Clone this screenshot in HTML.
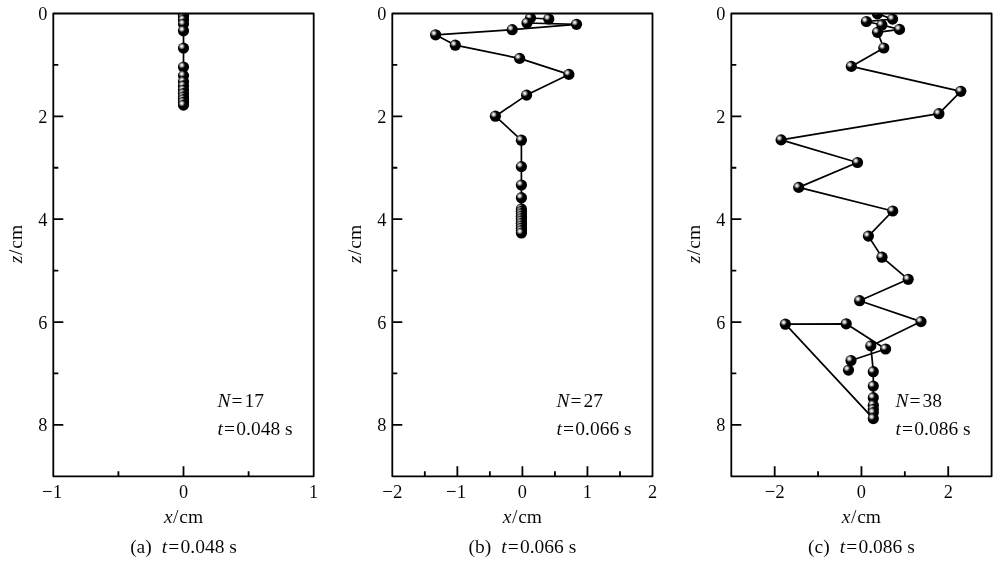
<!DOCTYPE html>
<html><head><meta charset="utf-8"><style>
html,body{margin:0;padding:0;background:#fff;width:1000px;height:562px;overflow:hidden}
svg{display:block;will-change:transform}
text{font-family:"Liberation Serif",serif;fill:#000;stroke:#fff;stroke-width:0.05px;paint-order:normal}
</style></head><body>
<svg width="1000" height="562" viewBox="0 0 1000 562">
<defs>
<radialGradient id="g" cx="0.34" cy="0.34" r="0.32" fx="0.34" fy="0.34">
<stop offset="0" stop-color="#f6f6f6"/>
<stop offset="0.25" stop-color="#e0e0e0"/>
<stop offset="0.6" stop-color="#707070"/>
<stop offset="0.9" stop-color="#080808"/>
<stop offset="1" stop-color="#000"/>
</radialGradient>

<clipPath id="c0"><rect x="53.3" y="13.5" width="260.4" height="462.8"/></clipPath>
<clipPath id="c1"><rect x="392.3" y="13.5" width="260.2" height="462.8"/></clipPath>
<clipPath id="c2"><rect x="731.3" y="13.5" width="260.3" height="462.8"/></clipPath>
</defs>
<g clip-path="url(#c0)">
<polyline points="183.5,14 183.5,15.2 183.5,16.9 183.5,19.9 183.5,24.1 183.5,30.8 183.5,48.1 183.5,67 183.5,75.6 183.5,81.6 183.5,85.9 183.5,90 183.5,93.7 183.5,96.9 183.5,99.6 183.5,102.3 183.5,105.1" fill="none" stroke="#000" stroke-width="1.7" stroke-linejoin="round"/>
<circle cx="183.5" cy="14" r="5.6" fill="url(#g)"/>
<circle cx="183.5" cy="15.2" r="5.6" fill="url(#g)"/>
<circle cx="183.5" cy="16.9" r="5.6" fill="url(#g)"/>
<circle cx="183.5" cy="19.9" r="5.6" fill="url(#g)"/>
<circle cx="183.5" cy="24.1" r="5.6" fill="url(#g)"/>
<circle cx="183.5" cy="30.8" r="5.6" fill="url(#g)"/>
<circle cx="183.5" cy="48.1" r="5.6" fill="url(#g)"/>
<circle cx="183.5" cy="67" r="5.6" fill="url(#g)"/>
<circle cx="183.5" cy="75.6" r="5.6" fill="url(#g)"/>
<circle cx="183.5" cy="81.6" r="5.6" fill="url(#g)"/>
<circle cx="183.5" cy="85.9" r="5.6" fill="url(#g)"/>
<circle cx="183.5" cy="90" r="5.6" fill="url(#g)"/>
<circle cx="183.5" cy="93.7" r="5.6" fill="url(#g)"/>
<circle cx="183.5" cy="96.9" r="5.6" fill="url(#g)"/>
<circle cx="183.5" cy="99.6" r="5.6" fill="url(#g)"/>
<circle cx="183.5" cy="102.3" r="5.6" fill="url(#g)"/>
<circle cx="183.5" cy="105.1" r="5.6" fill="url(#g)"/>
</g>
<path d="M53.3 13.5H313.7V476.3H53.3Z" fill="none" stroke="#000" stroke-width="1.8" stroke-linejoin="round"/>
<path d="M53.3 64.92h5M53.3 116.34h10M53.3 167.77h5M53.3 219.19h10M53.3 270.61h5M53.3 322.03h10M53.3 373.46h5M53.3 424.88h10M183.5 476.3v-10M118.4 476.3v-5M248.6 476.3v-5" stroke="#000" stroke-width="1.8" fill="none"/>
<text transform="translate(47.4,20) scale(0.94,1.02)" font-size="19.5" text-anchor="end">0</text>
<text transform="translate(47.4,122.84) scale(0.94,1.02)" font-size="19.5" text-anchor="end">2</text>
<text transform="translate(47.4,225.69) scale(0.94,1.02)" font-size="19.5" text-anchor="end">4</text>
<text transform="translate(47.4,328.53) scale(0.94,1.02)" font-size="19.5" text-anchor="end">6</text>
<text transform="translate(47.4,431.38) scale(0.94,1.02)" font-size="19.5" text-anchor="end">8</text>
<text transform="translate(52.1,498) scale(0.97,1.02)" font-size="19.5" text-anchor="middle">−1</text>
<text transform="translate(183.5,498) scale(0.94,1.02)" font-size="19.5" text-anchor="middle">0</text>
<text transform="translate(313.7,498) scale(0.94,1.02)" font-size="19.5" text-anchor="middle">1</text>
<text x="183.5" y="523" font-size="19.5" text-anchor="middle"><tspan font-style="italic">x</tspan><tspan dx="0.5">/</tspan><tspan dx="0.8">cm</tspan></text>
<text transform="translate(22.3,244.1) rotate(-90)" font-size="19.5" text-anchor="middle"><tspan font-style="italic">z</tspan><tspan dx="0.8">/</tspan><tspan dx="0.8">cm</tspan></text>
<text x="217.6" y="407.1" font-size="19.5"><tspan font-style="italic">N</tspan><tspan dx="1.0">=</tspan><tspan dx="2.0">17</tspan></text>
<text x="217.6" y="434.5" font-size="19.5"><tspan font-style="italic">t</tspan><tspan dx="1.0">=</tspan><tspan dx="1.3">0.048 s</tspan></text>
<text x="183.5" y="553" font-size="19.5" text-anchor="middle" xml:space="preserve">(a)<tspan dx="10" font-style="italic">t</tspan><tspan dx="1.0">=</tspan><tspan dx="1.3">0.048 s</tspan></text>
<g clip-path="url(#c1)">
<polyline points="548.8,19 530.5,18 527,23 576.5,24.3 512.2,29.7 435.6,34.8 455.3,45.2 519.6,58.4 568.9,74.4 526.6,95.1 495.4,116.2 521.4,140.2 521.4,166.6 521.4,185 521.4,197.7 521.4,208.9 521.4,211.31 521.4,213.72 521.4,216.13 521.4,218.54 521.4,220.95 521.4,223.36 521.4,225.77 521.4,228.18 521.4,230.59 521.4,233" fill="none" stroke="#000" stroke-width="1.7" stroke-linejoin="round"/>
<circle cx="530.5" cy="18" r="5.6" fill="url(#g)"/>
<circle cx="548.8" cy="19" r="5.6" fill="url(#g)"/>
<circle cx="527" cy="23" r="5.6" fill="url(#g)"/>
<circle cx="576.5" cy="24.3" r="5.6" fill="url(#g)"/>
<circle cx="512.2" cy="29.7" r="5.6" fill="url(#g)"/>
<circle cx="435.6" cy="34.8" r="5.6" fill="url(#g)"/>
<circle cx="455.3" cy="45.2" r="5.6" fill="url(#g)"/>
<circle cx="519.6" cy="58.4" r="5.6" fill="url(#g)"/>
<circle cx="568.9" cy="74.4" r="5.6" fill="url(#g)"/>
<circle cx="526.6" cy="95.1" r="5.6" fill="url(#g)"/>
<circle cx="495.4" cy="116.2" r="5.6" fill="url(#g)"/>
<circle cx="521.4" cy="140.2" r="5.6" fill="url(#g)"/>
<circle cx="521.4" cy="166.6" r="5.6" fill="url(#g)"/>
<circle cx="521.4" cy="185" r="5.6" fill="url(#g)"/>
<circle cx="521.4" cy="197.7" r="5.6" fill="url(#g)"/>
<circle cx="521.4" cy="208.9" r="5.6" fill="url(#g)"/>
<circle cx="521.4" cy="211.31" r="5.6" fill="url(#g)"/>
<circle cx="521.4" cy="213.72" r="5.6" fill="url(#g)"/>
<circle cx="521.4" cy="216.13" r="5.6" fill="url(#g)"/>
<circle cx="521.4" cy="218.54" r="5.6" fill="url(#g)"/>
<circle cx="521.4" cy="220.95" r="5.6" fill="url(#g)"/>
<circle cx="521.4" cy="223.36" r="5.6" fill="url(#g)"/>
<circle cx="521.4" cy="225.77" r="5.6" fill="url(#g)"/>
<circle cx="521.4" cy="228.18" r="5.6" fill="url(#g)"/>
<circle cx="521.4" cy="230.59" r="5.6" fill="url(#g)"/>
<circle cx="521.4" cy="233" r="5.6" fill="url(#g)"/>
</g>
<path d="M392.3 13.5H652.5V476.3H392.3Z" fill="none" stroke="#000" stroke-width="1.8" stroke-linejoin="round"/>
<path d="M392.3 64.92h5M392.3 116.34h10M392.3 167.77h5M392.3 219.19h10M392.3 270.61h5M392.3 322.03h10M392.3 373.46h5M392.3 424.88h10M457.35 476.3v-10M522.4 476.3v-10M587.45 476.3v-10M424.82 476.3v-5M489.88 476.3v-5M554.92 476.3v-5M619.98 476.3v-5" stroke="#000" stroke-width="1.8" fill="none"/>
<text transform="translate(386.4,20) scale(0.94,1.02)" font-size="19.5" text-anchor="end">0</text>
<text transform="translate(386.4,122.84) scale(0.94,1.02)" font-size="19.5" text-anchor="end">2</text>
<text transform="translate(386.4,225.69) scale(0.94,1.02)" font-size="19.5" text-anchor="end">4</text>
<text transform="translate(386.4,328.53) scale(0.94,1.02)" font-size="19.5" text-anchor="end">6</text>
<text transform="translate(386.4,431.38) scale(0.94,1.02)" font-size="19.5" text-anchor="end">8</text>
<text transform="translate(392.3,498) scale(0.97,1.02)" font-size="19.5" text-anchor="middle">−2</text>
<text transform="translate(456.15,498) scale(0.97,1.02)" font-size="19.5" text-anchor="middle">−1</text>
<text transform="translate(522.4,498) scale(0.94,1.02)" font-size="19.5" text-anchor="middle">0</text>
<text transform="translate(587.45,498) scale(0.94,1.02)" font-size="19.5" text-anchor="middle">1</text>
<text transform="translate(652.5,498) scale(0.94,1.02)" font-size="19.5" text-anchor="middle">2</text>
<text x="522.4" y="523" font-size="19.5" text-anchor="middle"><tspan font-style="italic">x</tspan><tspan dx="0.5">/</tspan><tspan dx="0.8">cm</tspan></text>
<text transform="translate(361.3,244.1) rotate(-90)" font-size="19.5" text-anchor="middle"><tspan font-style="italic">z</tspan><tspan dx="0.8">/</tspan><tspan dx="0.8">cm</tspan></text>
<text x="556.6" y="407.1" font-size="19.5"><tspan font-style="italic">N</tspan><tspan dx="1.0">=</tspan><tspan dx="2.0">27</tspan></text>
<text x="556.6" y="434.5" font-size="19.5"><tspan font-style="italic">t</tspan><tspan dx="1.0">=</tspan><tspan dx="1.3">0.066 s</tspan></text>
<text x="522.4" y="553" font-size="19.5" text-anchor="middle" xml:space="preserve">(b)<tspan dx="10" font-style="italic">t</tspan><tspan dx="1.0">=</tspan><tspan dx="1.3">0.066 s</tspan></text>
<g clip-path="url(#c2)">
<polyline points="877.4,13.8 892.6,19.1 866.4,21.5 881.9,25 899.5,29.4 877.5,32.3 883.8,48 851.3,66.4 960.8,91.3 938.9,113.7 781.1,139.9 857.5,162.5 798.7,187.4 892.7,211 868.4,236.1 882,257.2 908.2,279.3 859.6,300.7 921,321.6 870.8,345.9 873.3,371.7 873.3,386.1 873.3,397.7 873.3,405.2 873.3,409.3 873.3,412.7 873.3,418.6 785.4,324.2 846.2,323.8 885.6,349 851,360.5 848.5,370.1" fill="none" stroke="#000" stroke-width="1.7" stroke-linejoin="round"/>
<circle cx="877.4" cy="13.8" r="5.6" fill="url(#g)"/>
<circle cx="892.6" cy="19.1" r="5.6" fill="url(#g)"/>
<circle cx="866.4" cy="21.5" r="5.6" fill="url(#g)"/>
<circle cx="881.9" cy="25" r="5.6" fill="url(#g)"/>
<circle cx="899.5" cy="29.4" r="5.6" fill="url(#g)"/>
<circle cx="877.5" cy="32.3" r="5.6" fill="url(#g)"/>
<circle cx="883.8" cy="48" r="5.6" fill="url(#g)"/>
<circle cx="851.3" cy="66.4" r="5.6" fill="url(#g)"/>
<circle cx="960.8" cy="91.3" r="5.6" fill="url(#g)"/>
<circle cx="938.9" cy="113.7" r="5.6" fill="url(#g)"/>
<circle cx="781.1" cy="139.9" r="5.6" fill="url(#g)"/>
<circle cx="857.5" cy="162.5" r="5.6" fill="url(#g)"/>
<circle cx="798.7" cy="187.4" r="5.6" fill="url(#g)"/>
<circle cx="892.7" cy="211" r="5.6" fill="url(#g)"/>
<circle cx="868.4" cy="236.1" r="5.6" fill="url(#g)"/>
<circle cx="882" cy="257.2" r="5.6" fill="url(#g)"/>
<circle cx="908.2" cy="279.3" r="5.6" fill="url(#g)"/>
<circle cx="859.6" cy="300.7" r="5.6" fill="url(#g)"/>
<circle cx="921" cy="321.6" r="5.6" fill="url(#g)"/>
<circle cx="846.2" cy="323.8" r="5.6" fill="url(#g)"/>
<circle cx="785.4" cy="324.2" r="5.6" fill="url(#g)"/>
<circle cx="870.8" cy="345.9" r="5.6" fill="url(#g)"/>
<circle cx="885.6" cy="349" r="5.6" fill="url(#g)"/>
<circle cx="851" cy="360.5" r="5.6" fill="url(#g)"/>
<circle cx="848.5" cy="370.1" r="5.6" fill="url(#g)"/>
<circle cx="873.3" cy="371.7" r="5.6" fill="url(#g)"/>
<circle cx="873.3" cy="386.1" r="5.6" fill="url(#g)"/>
<circle cx="873.3" cy="397.7" r="5.6" fill="url(#g)"/>
<circle cx="873.3" cy="405.2" r="5.6" fill="url(#g)"/>
<circle cx="873.3" cy="409.3" r="5.6" fill="url(#g)"/>
<circle cx="873.3" cy="412.7" r="5.6" fill="url(#g)"/>
<circle cx="873.3" cy="418.6" r="5.6" fill="url(#g)"/>
</g>
<path d="M731.3 13.5H991.6V476.3H731.3Z" fill="none" stroke="#000" stroke-width="1.8" stroke-linejoin="round"/>
<path d="M731.3 64.92h5M731.3 116.34h10M731.3 167.77h5M731.3 219.19h10M731.3 270.61h5M731.3 322.03h10M731.3 373.46h5M731.3 424.88h10M774.68 476.3v-10M861.45 476.3v-10M948.22 476.3v-10M818.07 476.3v-5M904.83 476.3v-5" stroke="#000" stroke-width="1.8" fill="none"/>
<text transform="translate(725.4,20) scale(0.94,1.02)" font-size="19.5" text-anchor="end">0</text>
<text transform="translate(725.4,122.84) scale(0.94,1.02)" font-size="19.5" text-anchor="end">2</text>
<text transform="translate(725.4,225.69) scale(0.94,1.02)" font-size="19.5" text-anchor="end">4</text>
<text transform="translate(725.4,328.53) scale(0.94,1.02)" font-size="19.5" text-anchor="end">6</text>
<text transform="translate(725.4,431.38) scale(0.94,1.02)" font-size="19.5" text-anchor="end">8</text>
<text transform="translate(774.68,498) scale(0.97,1.02)" font-size="19.5" text-anchor="middle">−2</text>
<text transform="translate(861.45,498) scale(0.94,1.02)" font-size="19.5" text-anchor="middle">0</text>
<text transform="translate(948.22,498) scale(0.94,1.02)" font-size="19.5" text-anchor="middle">2</text>
<text x="861.45" y="523" font-size="19.5" text-anchor="middle"><tspan font-style="italic">x</tspan><tspan dx="0.5">/</tspan><tspan dx="0.8">cm</tspan></text>
<text transform="translate(700.3,244.1) rotate(-90)" font-size="19.5" text-anchor="middle"><tspan font-style="italic">z</tspan><tspan dx="0.8">/</tspan><tspan dx="0.8">cm</tspan></text>
<text x="895.6" y="407.1" font-size="19.5"><tspan font-style="italic">N</tspan><tspan dx="1.0">=</tspan><tspan dx="2.0">38</tspan></text>
<text x="895.6" y="434.5" font-size="19.5"><tspan font-style="italic">t</tspan><tspan dx="1.0">=</tspan><tspan dx="1.3">0.086 s</tspan></text>
<text x="861.45" y="553" font-size="19.5" text-anchor="middle" xml:space="preserve">(c)<tspan dx="10" font-style="italic">t</tspan><tspan dx="1.0">=</tspan><tspan dx="1.3">0.086 s</tspan></text>
</svg></body></html>
